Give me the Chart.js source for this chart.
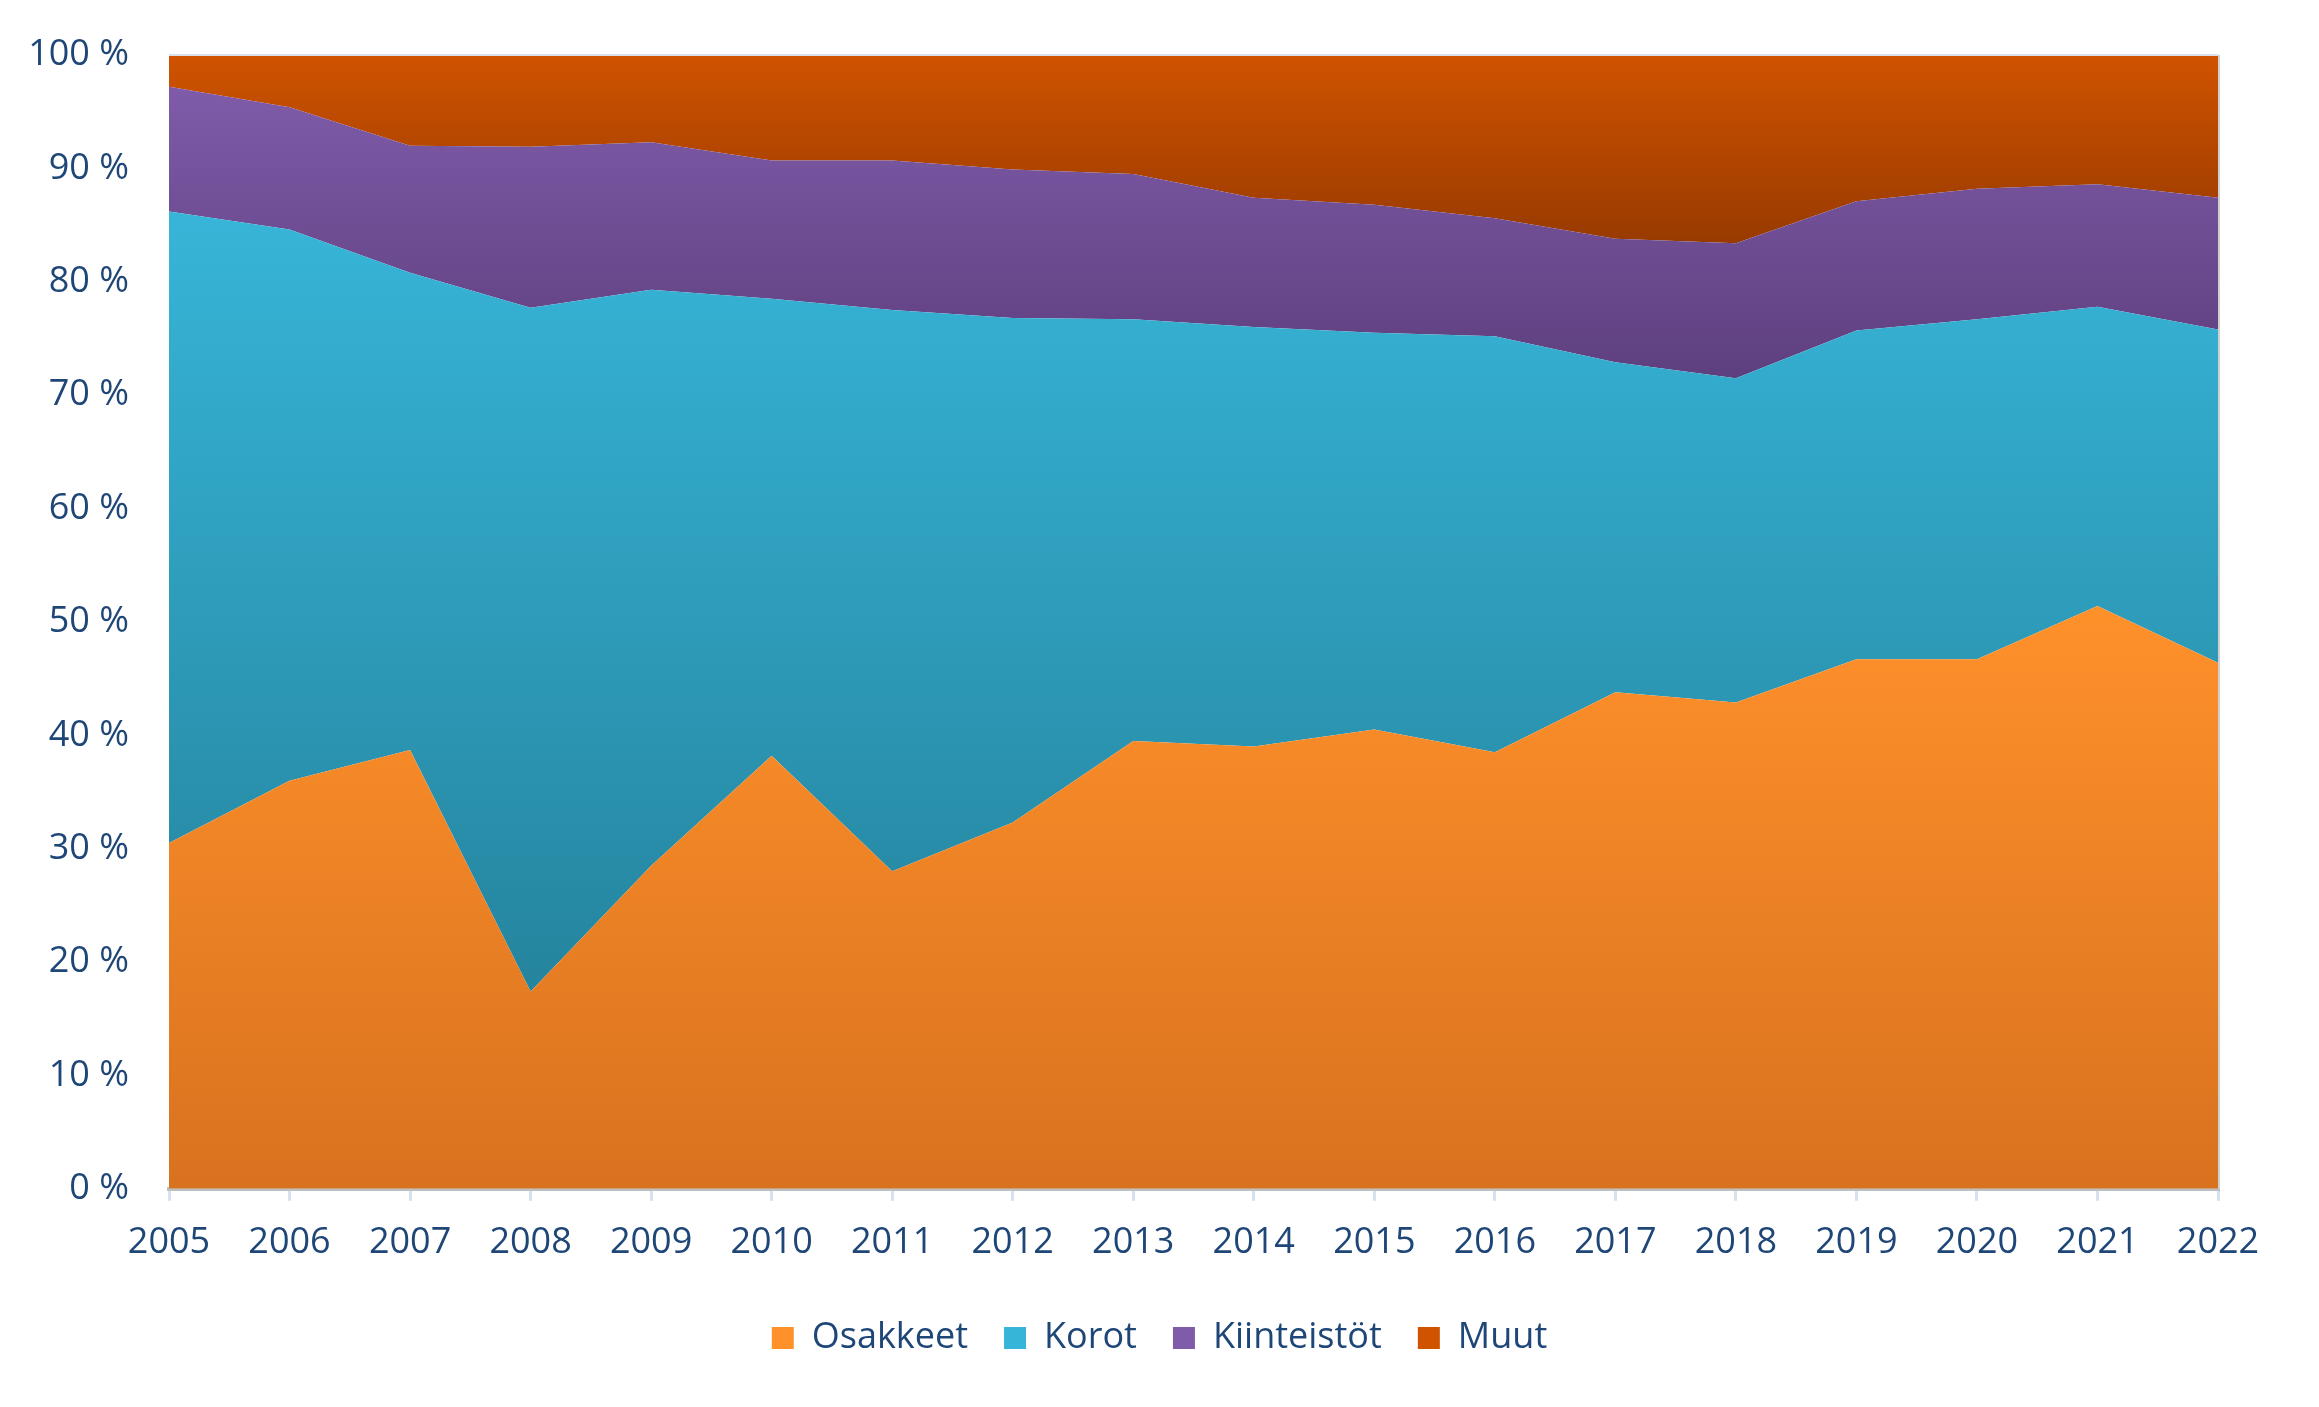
<!DOCTYPE html>
<html lang="fi">
<head>
<meta charset="utf-8">
<title>Sijoitusjakauma 2005–2022</title>
<script src="https://cdn.jsdelivr.net/npm/chart.js@4.4.1/dist/chart.umd.min.js"></script>
<style>
  html, body { margin: 0; padding: 0; background: #fff; }
  #wrap { width: 2319px; height: 1407px; position: relative; }
</style>
</head>
<body>
<div id="wrap"><canvas id="allocationChart"></canvas></div>
<script>
// ===== Data (share of portfolio, %) =====
const years = ["2005", "2006", "2007", "2008", "2009", "2010", "2011", "2012", "2013",
  "2014", "2015", "2016", "2017", "2018", "2019", "2020", "2021", "2022"];
const osakkeet = [30.5, 36.0, 38.7, 17.4, 28.5, 38.2, 28.0, 32.3, 39.5, 39.0, 40.5, 38.5, 43.8, 42.9, 46.7, 46.7, 51.4, 46.4];
const korot = [55.7, 48.6, 42.1, 60.3, 50.8, 40.3, 49.5, 44.5, 37.2, 37.0, 35.0, 36.7, 29.1, 28.6, 29.0, 30.0, 26.4, 29.4];
const kiinteistot = [11.0, 10.8, 11.2, 14.2, 13.0, 12.2, 13.2, 13.1, 12.8, 11.4, 11.3, 10.4, 10.9, 11.9, 11.4, 11.5, 10.8, 11.6];
const muut = [2.8, 4.6, 8.0, 8.1, 7.7, 9.3, 9.3, 10.1, 10.5, 12.6, 13.2, 14.4, 16.2, 16.6, 12.9, 11.8, 11.4, 12.6];
const yTicks = [0, 10, 20, 30, 40, 50, 60, 70, 80, 90, 100];

const seriesNames = ["Osakkeet", "Korot", "Kiinteistöt", "Muut"];

document.addEventListener("DOMContentLoaded", () => {
  const canvas = document.getElementById("allocationChart");
  if (!canvas || typeof Chart === "undefined") {
    console.error("Chart.js or canvas not found.");
    return;
  }

  const textColor = "#1e4677";
  const font = { family: "'Open Sans', 'Noto Sans', sans-serif", size: 36 };

  // running totals, used for where each gradient starts and ends
  const series = [osakkeet, korot, kiinteistot, muut];
  const cumulative = [];
  series.forEach((arr, i) => {
    cumulative.push(arr.map((v, j) => v + (i > 0 ? cumulative[i - 1][j] : 0)));
  });

  // ===== Gradient fills (light at the top of each band, darker at the bottom) =====
  const colors = [
    ["#ff912b", "#d8721f"],
    ["#37b5d8", "#25849e"],
    ["#7f5ba9", "#5e3f7e"],
    ["#d05300", "#983a00"]
  ];

  function bandFill(index) {
    return (context) => {
      const chart = context.chart;
      const { ctx, chartArea, scales } = chart;
      if (!chartArea) return colors[index][0];
      const top = Math.min(100, Math.max(...cumulative[index]));
      const bottom = index === 0 ? 0 : Math.min(...cumulative[index - 1]);
      const y0 = scales.y.getPixelForValue(top);
      const y1 = scales.y.getPixelForValue(bottom);
      const g = ctx.createLinearGradient(0, y0, 0, y1);
      g.addColorStop(0, colors[index][0]);
      g.addColorStop(1, colors[index][1]);
      return g;
    };
  }

  const datasets = series.map((arr, i) => ({
    label: seriesNames[i],
    data: arr,
    fill: i === 0 ? "origin" : "-1",
    backgroundColor: bandFill(i),
    borderWidth: 0,
    pointRadius: 0,
    tension: 0
  }));

  // ===== Plot frame (thin top line + right edge) =====
  const frame = {
    id: "frame",
    afterDatasetsDraw(chart) {
      const { ctx, chartArea: a } = chart;
      ctx.save();
      ctx.strokeStyle = "#d9e2ec";
      ctx.lineWidth = 2;
      ctx.beginPath();
      ctx.moveTo(a.left, a.top);
      ctx.lineTo(a.right, a.top);
      ctx.stroke();
      ctx.strokeStyle = "#d0d0d0";
      ctx.beginPath();
      ctx.moveTo(a.right + 1, a.top);
      ctx.lineTo(a.right + 1, a.bottom);
      ctx.stroke();
      ctx.restore();
    }
  };

  // ===== Centre the legend on the whole canvas, not the padded box =====
  const centerLegend = {
    id: "centerLegend",
    afterLayout(chart) {
      const lg = chart.legend;
      if (!lg) return;
      lg.left = 0;
      lg.right = chart.width;
      lg.width = chart.width;
      lg.adjustHitBoxes();
    }
  };

  new Chart(canvas.getContext("2d"), {
    type: "line",
    data: { labels: years, datasets },
    plugins: [frame, centerLegend],
    options: {
      responsive: true,
      maintainAspectRatio: false,
      animation: false,
      layout: { padding: { left: 29, right: 101, top: 55, bottom: 41 } },
      scales: {
        x: {
          offset: false,
          border: { display: true, color: "#bfbfbf", width: 4 },
          grid: { drawOnChartArea: false, drawTicks: true, tickLength: 12, color: "#d6e2f0", lineWidth: 3 },
          ticks: { color: textColor, font, padding: 20, maxRotation: 0, autoSkip: false }
        },
        y: {
          stacked: true,
          min: 0,
          max: 100,
          border: { display: false },
          grid: { display: false, drawTicks: false },
          afterBuildTicks: (axis) => { axis.ticks = yTicks.map(v => ({ value: v })); },
          afterFit: (axis) => {
            axis.width = 140;
            axis.paddingTop = 22; // tick padding would otherwise push the plot down
          },
          ticks: {
            color: textColor,
            font,
            padding: 40,
            callback: (v) => v + " %"
          }
        }
      },
      plugins: {
        legend: {
          position: "bottom",
          labels: {
            color: textColor,
            font,
            boxWidth: 22,
            boxHeight: 22,
            padding: 36,
            generateLabels: (chart) => seriesNames.map((name, i) => ({
              text: name,
              fillStyle: colors[i][0],
              strokeStyle: colors[i][1],
              lineWidth: 0,
              hidden: false,
              datasetIndex: i,
              fontColor: textColor
            }))
          }
        },
        tooltip: { enabled: false }
      }
    }
  });
});
</script>
</body>
</html>
